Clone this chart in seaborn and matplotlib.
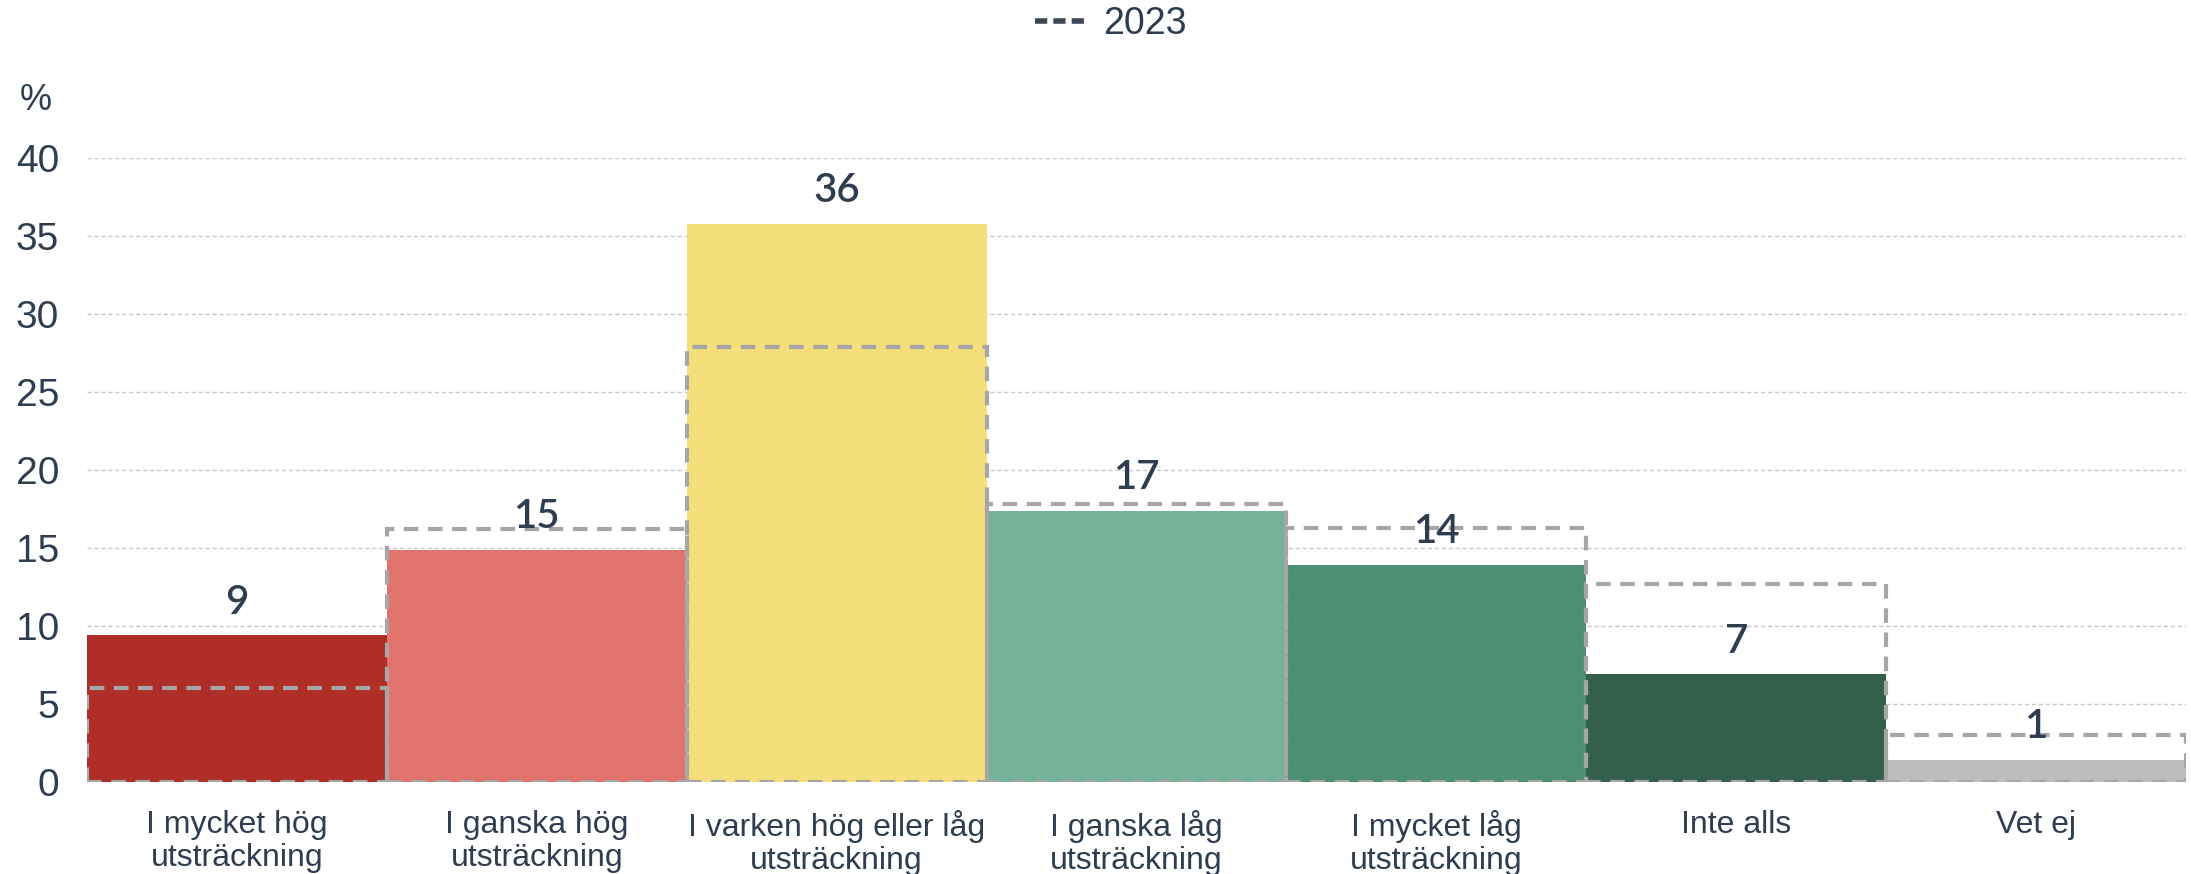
import matplotlib
matplotlib.use("Agg")
import matplotlib.pyplot as plt
from matplotlib.lines import Line2D
import seaborn as sns
import pandas as pd

categories = ["I mycket hög\nutsträckning", "I ganska hög\nutsträckning",
              "I varken hög eller låg\nutsträckning", "I ganska låg\nutsträckning",
              "I mycket låg\nutsträckning", "Inte alls", "Vet ej"]
values_2024 = [9.4, 14.9, 35.8, 17.4, 13.9, 6.9, 1.4]
values_2023 = [6.0, 16.2, 27.9, 17.8, 16.3, 12.7, 3.0]
bar_colors = ["#b02e28", "#e0746c", "#f5df7b", "#72b399", "#4d8f73", "#345f4d", "#bdbdbd"]
yticks = [0, 5, 10, 15, 20, 25, 30, 35, 40]

df = pd.DataFrame({"cat": categories, "v2024": values_2024, "v2023": values_2023})

sns.set_theme(style="white")
plt.rcParams["font.family"] = ["Liberation Sans", "DejaVu Sans"]
TXT = "#2e3d4f"

fig = plt.figure(figsize=(21.91, 8.74), dpi=100)
ax = fig.add_axes([87 / 2191, 92 / 874, 2099 / 2191, (782 - 158) / 874])

sns.barplot(data=df, x="cat", y="v2024", hue="cat", palette=bar_colors, order=categories,
            hue_order=categories, width=1, saturation=1, legend=False, ax=ax, zorder=2,
            linewidth=0)
n = len(ax.patches)
sns.barplot(data=df, x="cat", y="v2023", order=categories, width=1, fill=False,
            color="#a6a6a6", linewidth=3, ax=ax, zorder=3)
for p in ax.patches[n:]:
    p.set_linestyle((0, (3.5, 2.3)))
    p.set_edgecolor("#a6a6a6")
    p.set_facecolor("none")
    p.set_zorder(3)

for i, v in enumerate(values_2024):
    ax.annotate(f"{round(v)}", xy=(i, v), xytext=(0, 24), textcoords="offset points",
                ha="center", va="center", fontsize=29, color=TXT,
                family=["Lato", "DejaVu Sans"], fontweight="semibold", zorder=5)

ax.set_xlim(-0.5, 6.5)
ax.set_ylim(0, 40)
ax.set_yticks(yticks)
ax.set_yticklabels([str(t) for t in yticks], fontsize=28, color=TXT)
ax.set_xticks(range(len(categories)))
ax.set_xticklabels(categories, fontsize=23, color=TXT, linespacing=1.15)
ax.tick_params(axis="y", length=0, pad=20)
ax.tick_params(axis="x", length=0, pad=20)
ax.set_xlabel("")
ax.set_ylabel("")
for s in ax.spines.values():
    s.set_visible(False)
ax.yaxis.grid(True, color="#c8c8c8", linestyle=(0, (3, 2)), linewidth=1, zorder=0)
ax.set_axisbelow(True)

fig.text(36 / 2191, 1 - 100 / 874, "%", fontsize=26, color=TXT, ha="center", va="center")

handle = Line2D([0], [0], color="#3b4754", linestyle=(0, (2.2, 1.1)), linewidth=4)
fig.legend([handle], ["2023"], loc="center", bbox_to_anchor=(0.507, 1 - 24 / 874),
           frameon=False, fontsize=27, labelcolor=TXT, handlelength=1.3, handletextpad=0.5)

fig.savefig("out.png", dpi=100)
